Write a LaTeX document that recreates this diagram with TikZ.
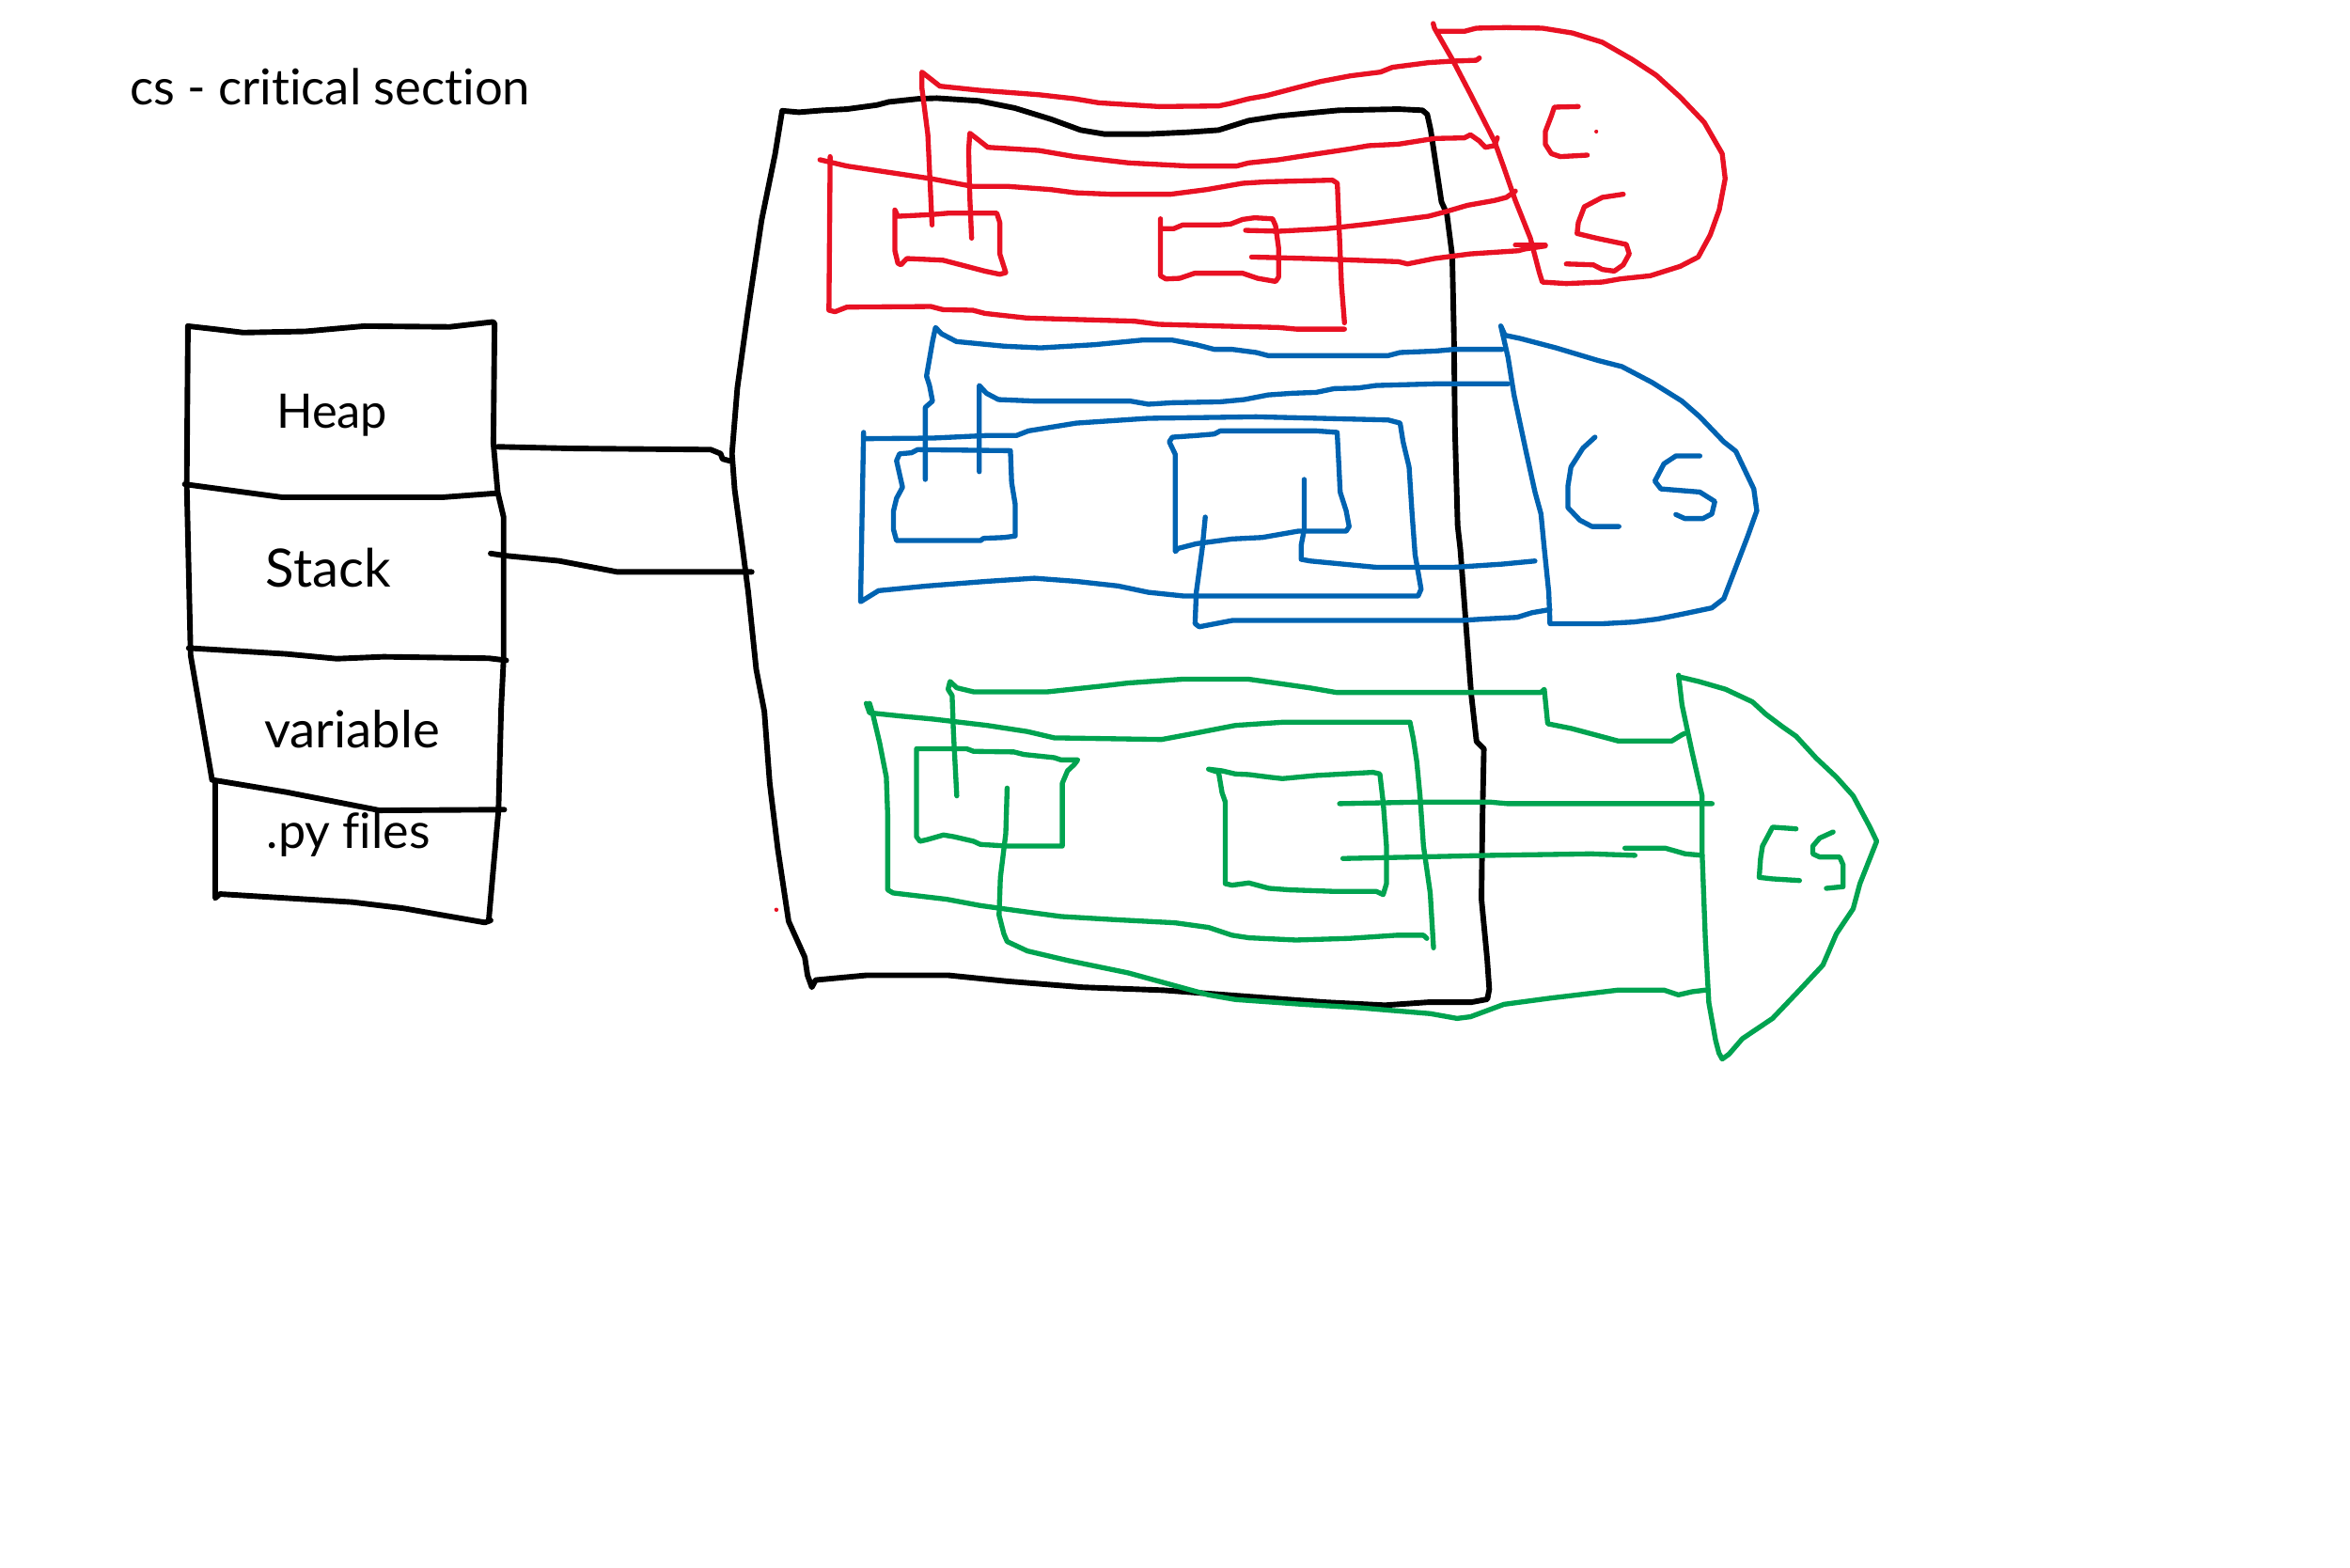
\documentclass[tikz,border=0pt]{standalone}
\usepackage{fontspec}
\setmainfont{Lato}[Ligatures=CommonOff]
\usepackage{graphicx}
\definecolor{inkred}{RGB}{232,17,35}
\definecolor{inkblue}{RGB}{0,99,177}
\definecolor{inkgreen}{RGB}{0,163,80}
\tikzset{
  ink/.style={line cap=round, line join=round},
  blk/.style={ink, draw=black, line width=1.05pt},
  rd/.style={ink, draw=inkred, line width=0.95pt},
  bl/.style={ink, draw=inkblue, line width=0.95pt},
  gr/.style={ink, draw=inkgreen, line width=0.95pt},
  lbl/.style={anchor=base, inner sep=0pt, outer sep=0pt}
}
\begin{document}
\begin{tikzpicture}[x=0.01cm, y=-0.01cm]
\fill[white] (0,0) rectangle (1568,1046);
\useasboundingbox (0,0) rectangle (1568,1046);

% title
\node[lbl] (title) at (220.2,70) {\resizebox{2.67cm}{!}{cs - critical section}};

% left stack
\draw[blk] (125.4,217.6) -- (144.1,219.7) -- (162.3,221.9) -- (203.9,221.1) -- (242.9,217.6) -- (300.1,218.1) -- (328.7,214.8) -- (330,215.7) -- (329.2,295.9) -- (332.1,328.5) -- (336,344.9) -- (336,440) -- (334.4,472.7) -- (332.6,540.7) -- (326.1,614.1);
\draw[blk] (125.4,217.6) -- (124.6,323.1) -- (127.2,437.3) -- (141.5,520.3);
\draw[blk] (123.3,323.1) -- (188.3,331.8) -- (294.9,331.8) -- (331.3,329.1);
\draw[blk] (125.9,432.4) -- (190.9,436.3) -- (224.7,439.5) -- (255.9,438.2) -- (326.1,439.2) -- (337.8,440.6);
\draw[blk] (141.5,520.3) -- (190.9,528.5) -- (253.3,540.7) -- (336.5,540.2);
\draw[blk] (143.6,521.7) -- (143.6,599.2) -- (146.7,596.5) -- (235.1,601.9) -- (268.9,606) -- (323.5,615.5) -- (327.4,614.1);
\node[lbl] (heap) at (221.5,286) {\resizebox{0.74cm}{!}{Heap}};
\node[lbl] (stack) at (219,392) {\resizebox{0.832cm}{!}{Stack}};
\node[lbl] (variable) at (235,499) {\resizebox{1.17cm}{!}{variable}};
\node[lbl] (pyfiles) at (232.5,566) {\resizebox{1.09cm}{!}{.py files}};

% connectors stack -> box
\draw[blk] (332.1,298.1) -- (380.7,299.2) -- (474.3,300) -- (480.8,302.7) -- (482.1,306.2) -- (487.3,307.6);
\draw[blk] (327.4,369.3) -- (336.5,370.7) -- (372.9,374.2) -- (411.9,381.6) -- (501.6,381.6);

% big black box
\draw[blk] (521.9,73.9) -- (517.2,102.7) -- (508.2,146.7) -- (499.2,206.7) -- (492,258.7) -- (488.4,302.7) -- (490.2,326.7) -- (495.6,366.7) -- (499.2,394.7) -- (504.6,446.7) -- (510,474.7) -- (513.6,522.7) -- (519,566.7) -- (526.2,614.7) -- (531.6,626.7) -- (537,638.7) -- (538.8,650.7) -- (541.7,658.7)
  -- (544.2,653.9) -- (578.4,650.7) -- (632.4,650.7) -- (672,654.7) -- (722.4,658.7) -- (776.4,660.7) -- (830.4,664.7) -- (884.4,668.7) -- (924,670.7) -- (952.8,668.7) -- (981.6,668.7) -- (992.4,666.7)
  -- (993.7,660) -- (992.3,640) -- (988.5,600) -- (989.2,543.5) -- (990.1,499.6) -- (985.2,494.7) -- (981.6,462.7) -- (978,414.7) -- (974.4,366.7) -- (972.6,350.7) -- (970.8,286.7) -- (970.1,222.7) -- (969,170.7) -- (965.4,142.7) -- (961.8,134.7) -- (958.2,110.7) -- (954.6,86.7) -- (952.3,76.3) -- (949.1,73.6)
  -- (933.1,72.8) -- (893.1,73.6) -- (853.1,77.4) -- (833.1,80.5) -- (813.1,86.8) -- (793.1,88.2) -- (765.1,89.5) -- (737.1,89.5) -- (721.1,86.8) -- (701.1,79.5) -- (677.1,72.1) -- (653.1,67.3) -- (625.1,65.5) -- (613.1,65.9) -- (593.1,68) -- (585.1,70.1) -- (565.1,72.8) -- (549.1,73.6) -- (533.1,74.9) -- cycle;

\fill[inkred] (518,607) circle (1.4);

% ---------------- red group
\draw[rd] (621.9,150.1) -- (619.1,89.9) -- (615.1,58.5) -- (615.1,48.1) -- (619.1,51.2) -- (627.1,57.5) -- (653.1,60.2) -- (693.1,63.2) -- (717.1,65.9) -- (733.1,68.6) -- (773.1,71.1) -- (813.1,70.7) -- (821.1,69) -- (833.1,65.9) -- (845.1,63.8) -- (861.1,59.6) -- (881.1,54.4) -- (901.1,50.6) -- (921.1,48.1) -- (929.1,44.9) -- (953.1,41.8) -- (969.1,40.8) -- (985.1,40.2) -- (987.1,38.7);
\draw[rd] (648.3,158.9) -- (647.1,131.7) -- (646.3,100.4) -- (647.1,88.9) -- (651.1,92) -- (659.1,98.3) -- (693.1,100.4) -- (717.1,104.5) -- (753.1,108.7) -- (793.1,110.8) -- (825.1,110.8) -- (833.1,108.7) -- (853.1,106.6) -- (873.1,103.5) -- (901.1,99.3) -- (913.1,97.2) -- (933.1,96.2) -- (957.1,92.4) -- (977.1,92) -- (981.1,89.9) -- (987.1,94.1) -- (991.1,98.3) -- (997.1,97.2) -- (999.1,92);
\draw[rd] (553.9,104.5) -- (553.1,207) -- (557.1,208) -- (565.1,204.9) -- (621.1,204.5) -- (629.1,206.6) -- (649.1,207) -- (657.1,209.1) -- (685.1,212.2) -- (757.1,214.3) -- (773.1,216.4) -- (813.1,217.5) -- (853.1,218.5) -- (865.1,219.6) -- (897.1,219.6);
\draw[rd] (547.1,106.6) -- (565.1,110.8) -- (593.1,115) -- (621.1,119.2) -- (649.1,124.4) -- (673.1,124.4) -- (701.1,126.5) -- (717.1,128.6) -- (741.1,129.6) -- (781.1,129.6) -- (805.1,126.5) -- (829.1,122.3) -- (845.1,121.3) -- (889.1,120.2) -- (892.3,122.3) -- (893.1,142.2) -- (895.1,190.3) -- (897.1,215.4);
\draw[rd] (597.1,140.1) -- (599.1,144.3) -- (621.1,143.2) -- (633.1,142.2) -- (665.1,142.2) -- (667.1,148.5) -- (667.1,169.4) -- (671.1,181.9) -- (667.1,183) -- (657.1,180.9) -- (641.1,176.7) -- (629.1,173.6) -- (605.1,172.5) -- (601.1,176.7) -- (599.1,175.6) -- (597.1,167.3) -- cycle;
\draw[rd] (774.3,146) -- (774.3,184) -- (777.9,186.1) -- (787.1,185.7) -- (797.1,182.3) -- (829.1,182.3) -- (839.1,185.7) -- (851.1,187.8) -- (853.1,185) -- (853.1,165.2) -- (851.1,150.6) -- (849.1,146) -- (837.1,145.3) -- (829.1,146.4) -- (821.1,149.5) -- (813.1,150.1) -- (789.1,150.1) -- (783.1,152.6) -- (776.3,152.6);
\draw[rd] (831.1,153.7) -- (853.1,154.3) -- (885.1,152.6) -- (913.1,149.5) -- (953.1,144.3) -- (965.1,141.1) -- (979.1,137) -- (997.1,133.8) -- (1005.1,131.7) -- (1011.1,127.5);
\draw[rd] (835.1,171.5) -- (873.1,172.5) -- (933.1,174.6) -- (939.1,176.1) -- (957.1,172.5) -- (981.1,169.4) -- (1013.1,167.3) -- (1017.1,166.2) -- (1031.1,164.1);
\draw[rd] (1011.1,163.5) -- (1031.1,163.5);
\draw[rd] (956.3,15.7) -- (957.1,18.8) -- (969.1,39.7) -- (981.1,62.7) -- (997.1,94.1) -- (1003.1,110.8) -- (1011.1,133.8) -- (1021.1,158.9) -- (1027.1,181.9) -- (1029.1,188.2) -- (1045.1,189.2) -- (1069.1,188.2) -- (1081.1,186.1) -- (1101.1,184) -- (1121.1,177.7) -- (1133.1,171.5) -- (1141.1,156.8) -- (1147.1,140.1) -- (1151.1,119.2) -- (1149.1,102.5) -- (1137.1,81.6) -- (1121.1,64.8) -- (1105.1,50.2) -- (1089.1,39.7) -- (1069.1,28.2) -- (1049.1,22) -- (1029.1,18.8) -- (1005.1,18.4) -- (985.1,18.8) -- (977.1,20.9) -- (959.1,20.9);
\draw[rd] (1053.1,71.1) -- (1037.1,71.5) -- (1035.1,77.4) -- (1031.1,87.8) -- (1031.1,96.2) -- (1035.1,102.5) -- (1041.1,104.5) -- (1059.1,103.5);
\fill[inkred] (1065.1,87.8) circle (1.3);
\draw[rd] (1083.1,129.6) -- (1069.1,131.7) -- (1057.1,138) -- (1053.1,148.5) -- (1052.3,155.8) -- (1065.1,158.9) -- (1085.1,163.1) -- (1087.1,169.4) -- (1083.1,176.7) -- (1077.1,180.9) -- (1069.1,179.8) -- (1063.1,176.7) -- (1045.1,176.1);

% ---------------- blue group
\draw[bl] (617.4,319.9) -- (617.4,271.8) -- (622.2,267.6) -- (620.2,257.2) -- (618.2,250.9) -- (622.2,227.9) -- (624.2,218.5) -- (628.2,222.7) -- (638.2,227.9) -- (670.2,231) -- (694.2,232.1) -- (730.2,230) -- (762.2,226.9) -- (782.2,226.9) -- (798.2,230) -- (810.2,233.1) -- (822.2,233.1) -- (838.2,235.2) -- (846.2,237.3) -- (926.2,237.3) -- (934.2,235.2) -- (958.2,234.2) -- (970.2,233.1) -- (1002.2,233.1);
\draw[bl] (653.4,314.7) -- (653.4,257.2) -- (658.2,262.4) -- (666.2,266.6) -- (690.2,267.6) -- (754.2,267.6) -- (766.2,269.7) -- (782.2,268.7) -- (814.2,268.1) -- (830.2,266.6) -- (846.2,263.5) -- (862.2,262.4) -- (878.2,261.8) -- (890.2,259.3) -- (906.2,258.9) -- (918.2,257.2) -- (958.2,256.1) -- (1006.2,256.1);
\draw[bl] (576.2,288.5) -- (574.2,401.5) -- (586.2,394.1) -- (618.2,391) -- (658.2,387.9) -- (690.2,385.8) -- (718.2,387.9) -- (746.2,391) -- (766.2,395.2) -- (790.2,397.7) -- (946.2,397.7) -- (948.2,393.1) -- (944.2,370.1) -- (942.2,342.9) -- (940.2,311.6) -- (936.2,294.8) -- (934.2,282.3) -- (926.2,280.2) -- (838.2,278.1) -- (766.2,279.1) -- (718.2,282.3) -- (686.2,287.5) -- (678.2,290.6) -- (658.2,290.6) -- (622.2,292.3) -- (577.4,292.7);
\draw[bl] (602.2,325.1) -- (598.2,307.4) -- (600.2,302.8) -- (608.2,302.1) -- (612.2,300) -- (674.2,300.7) -- (675,322) -- (677.4,336.6) -- (677.4,357.6) -- (670.2,358.6) -- (656.2,359.2) -- (654.2,360.7) -- (598.2,360.7) -- (596.2,353.4) -- (596.2,340.8) -- (598.2,332.5) -- cycle;
\draw[bl] (784.2,303.2) -- (784.2,368) -- (786.2,365.9) -- (798.2,362.8) -- (822.2,359.6) -- (842.2,358.6) -- (866.2,354.4) -- (898.2,354.4) -- (900.2,351.3) -- (898.2,340.8) -- (894.2,328.3) -- (893.4,311.6) -- (892.2,288.5) -- (878.2,287.5) -- (814.2,287.5) -- (810.2,289.6) -- (798.2,290.6) -- (782.2,291.7) -- (780.2,294.8) -- cycle;
\draw[bl] (870.2,319.9) -- (870.2,353.4) -- (868.2,363.8) -- (868.2,373.2) -- (874.2,374.3) -- (918.2,378.5) -- (970.2,378.5) -- (1002.2,376.4) -- (1024.2,374.3);
\draw[bl] (804.2,345) -- (802.2,365.9) -- (798.2,395.2) -- (797.4,416.1) -- (800.2,418.2) -- (822.2,414) -- (974.2,414) -- (990.2,413) -- (1012.2,411.9) -- (1022.2,408.8) -- (1034.2,406.7);
\draw[bl] (1001.4,217.5) -- (1004.2,223.7) -- (1014.2,225.8) -- (1038.2,232.1) -- (1066.2,240.5) -- (1082.2,244.6) -- (1102.2,255.1) -- (1122.2,267.6) -- (1134.2,278.1) -- (1150.2,294.8) -- (1158.2,301.1) -- (1170.2,326.2) -- (1172.2,340.8) -- (1166.2,357.6) -- (1158.2,378.5) -- (1150.2,399.4) -- (1142.2,405.6) -- (1122.2,409.8) -- (1106.2,413) -- (1090.2,415) -- (1070.2,416.1) -- (1034.2,416.1) -- (1033.4,395.2) -- (1030.2,363.8) -- (1028.2,342.9) -- (1024.2,328.3) -- (1018.2,301.1) -- (1010.2,263.5) -- (1006.2,238.4) -- (1001.4,217.5);
\draw[bl] (1064.2,291.7) -- (1056.2,299) -- (1048.2,311.6) -- (1046.2,324.1) -- (1046.2,338.7) -- (1054.2,347.1) -- (1062.2,351.3) -- (1080.2,351.3);
\draw[bl] (1134.2,304.2) -- (1118.2,304.2) -- (1110.2,309.5) -- (1104.2,321) -- (1108.2,326.2) -- (1134.2,328.3) -- (1144.2,334.6) -- (1142.2,342.9) -- (1136.2,346) -- (1124.2,346) -- (1118.2,343.3);

% ---------------- green group
\draw[gr] (638.4,531) -- (636.2,489.2) -- (635.3,464.1) -- (632.6,459.9) -- (633.9,454.7) -- (638.4,458.9) -- (649.6,461.6) -- (698.9,461.6) -- (734.7,457.8) -- (752.7,455.7) -- (788.5,453.2) -- (833.3,453.2) -- (851.2,455.7) -- (873.6,458.9) -- (891.5,462) -- (1028.2,462) -- (1030.4,459.9) -- (1032.7,482.9) -- (1048.3,486) -- (1079.7,494.4) -- (1115.5,494.4) -- (1122.3,490.2) -- (1124.5,489.2);
\draw[gr] (578,469.3) -- (580.2,475.6) -- (600.3,477.7) -- (622.7,479.8) -- (658.6,484) -- (685.5,488.1) -- (703.4,492.3) -- (775,493.4) -- (797.5,489.2) -- (824.3,484) -- (855.7,481.9) -- (940.8,481.9) -- (943.1,493.4) -- (945.3,508) -- (947.5,531) -- (949.8,564.5) -- (954.3,595.8) -- (956.5,632.4);
\draw[gr] (952,626.1) -- (949.8,624) -- (931.9,624) -- (900.5,626.1) -- (864.7,627.2) -- (833.3,625.7) -- (822.1,624) -- (806.4,618.8) -- (784,615.7) -- (743.7,613.6) -- (707.9,611.5) -- (676.5,607.3) -- (654.1,604.2) -- (631.7,600) -- (595.9,595.8) -- (592.3,593.7) -- (592.3,543.6) -- (591.4,518.5) -- (586.9,495.5) -- (582.4,476.6) -- (580.2,469.3);
\draw[gr] (611.5,499.6) -- (645.1,499.6) -- (649.6,501.3) -- (676.5,501.7) -- (683.2,503.4) -- (703.4,505.5) -- (707.9,507) -- (719.1,507) -- (716.8,510.1) -- (712.3,514.3) -- (708.8,522.6) -- (708.8,564.5) -- (672,564.5) -- (654.1,563.4) -- (649.6,561.3) -- (636.2,558.2) -- (629.5,557.1) -- (618.3,560.3) -- (613.8,561.3) -- (611.5,558.2) -- cycle;
\draw[gr] (672,525.8) -- (671.1,556.1) -- (667.5,585.4) -- (666.6,610.5) -- (669.8,623) -- (672,628.2) -- (685.5,634.5) -- (712.3,640.8) -- (752.7,649.1) -- (806.4,663.8) -- (824.3,666.9) -- (869.1,670.1) -- (904.9,672.2) -- (954.3,676.3) -- (972.2,679.5) -- (981.1,678.4) -- (1003.5,670.1) -- (1034.9,665.9) -- (1079.7,660.6) -- (1110.3,660.6) -- (1119.9,663.8) -- (1128.9,661.7) -- (1137.9,660.6);
\draw[gr] (806.4,513.2) -- (813.1,515.3) -- (815.4,528.9) -- (817.6,535.2) -- (817.6,589.6) -- (822.1,590.6) -- (833.3,589.1) -- (846.7,592.7) -- (860.2,593.7) -- (891.5,594.8) -- (918.4,594.8) -- (922.9,596.9) -- (925.1,589.6) -- (925.1,564.5) -- (922.9,535.2) -- (920.7,516.4) -- (916.2,515.3) -- (878.1,517.4) -- (855.7,519.5) -- (846.7,518.5) -- (833.3,516.8) -- (824.3,516.4) -- (815.4,514.3) -- cycle;
\draw[gr] (893.8,536.2) -- (945.3,535.2) -- (994.6,535.2) -- (1005.8,536.2) -- (1142.4,536.2);
\draw[gr] (896,572.8) -- (945.3,571.8) -- (994.6,570.7) -- (1061.8,569.7) -- (1090.9,570.7);
\draw[gr] (1084.2,565.9) -- (1111.1,565.9) -- (1124.5,569.7) -- (1135.7,570.7);
\draw[gr] (1120,450.5) -- (1122.3,470.4) -- (1129,501.7) -- (1135.7,531) -- (1135.7,568.6) -- (1137.9,627.2) -- (1140.2,669) -- (1144.7,694.1) -- (1146.9,702.5) -- (1149.1,706.6) -- (1153.6,703.4) -- (1162.6,693) -- (1182.7,679.5) -- (1200.7,660.6) -- (1216.3,643.9) -- (1225.3,623) -- (1236.5,606.3) -- (1241,589.6) -- (1252.2,561.3) -- (1247.7,551.9) -- (1236.5,531) -- (1225.3,518.5) -- (1211.9,505.9) -- (1198.5,491.3) -- (1189.5,485) -- (1178.3,476.6) -- (1169.3,468.3) -- (1151.4,459.9) -- (1133.5,454.7) -- (1120,451.5);
\draw[gr] (1198.4,553) -- (1182.7,551.9) -- (1180.5,556.1) -- (1176,564.5) -- (1174.7,572.8) -- (1173.8,585.4) -- (1182.7,586.4) -- (1200.7,587.5);
\draw[gr] (1223.1,555.1) -- (1214.1,559.2) -- (1209.6,564.5) -- (1209.6,569.7) -- (1214.1,571.8) -- (1227.5,571.8) -- (1229.8,577) -- (1229.8,591.6) -- (1218.6,592.7);
\end{tikzpicture}
\end{document}
